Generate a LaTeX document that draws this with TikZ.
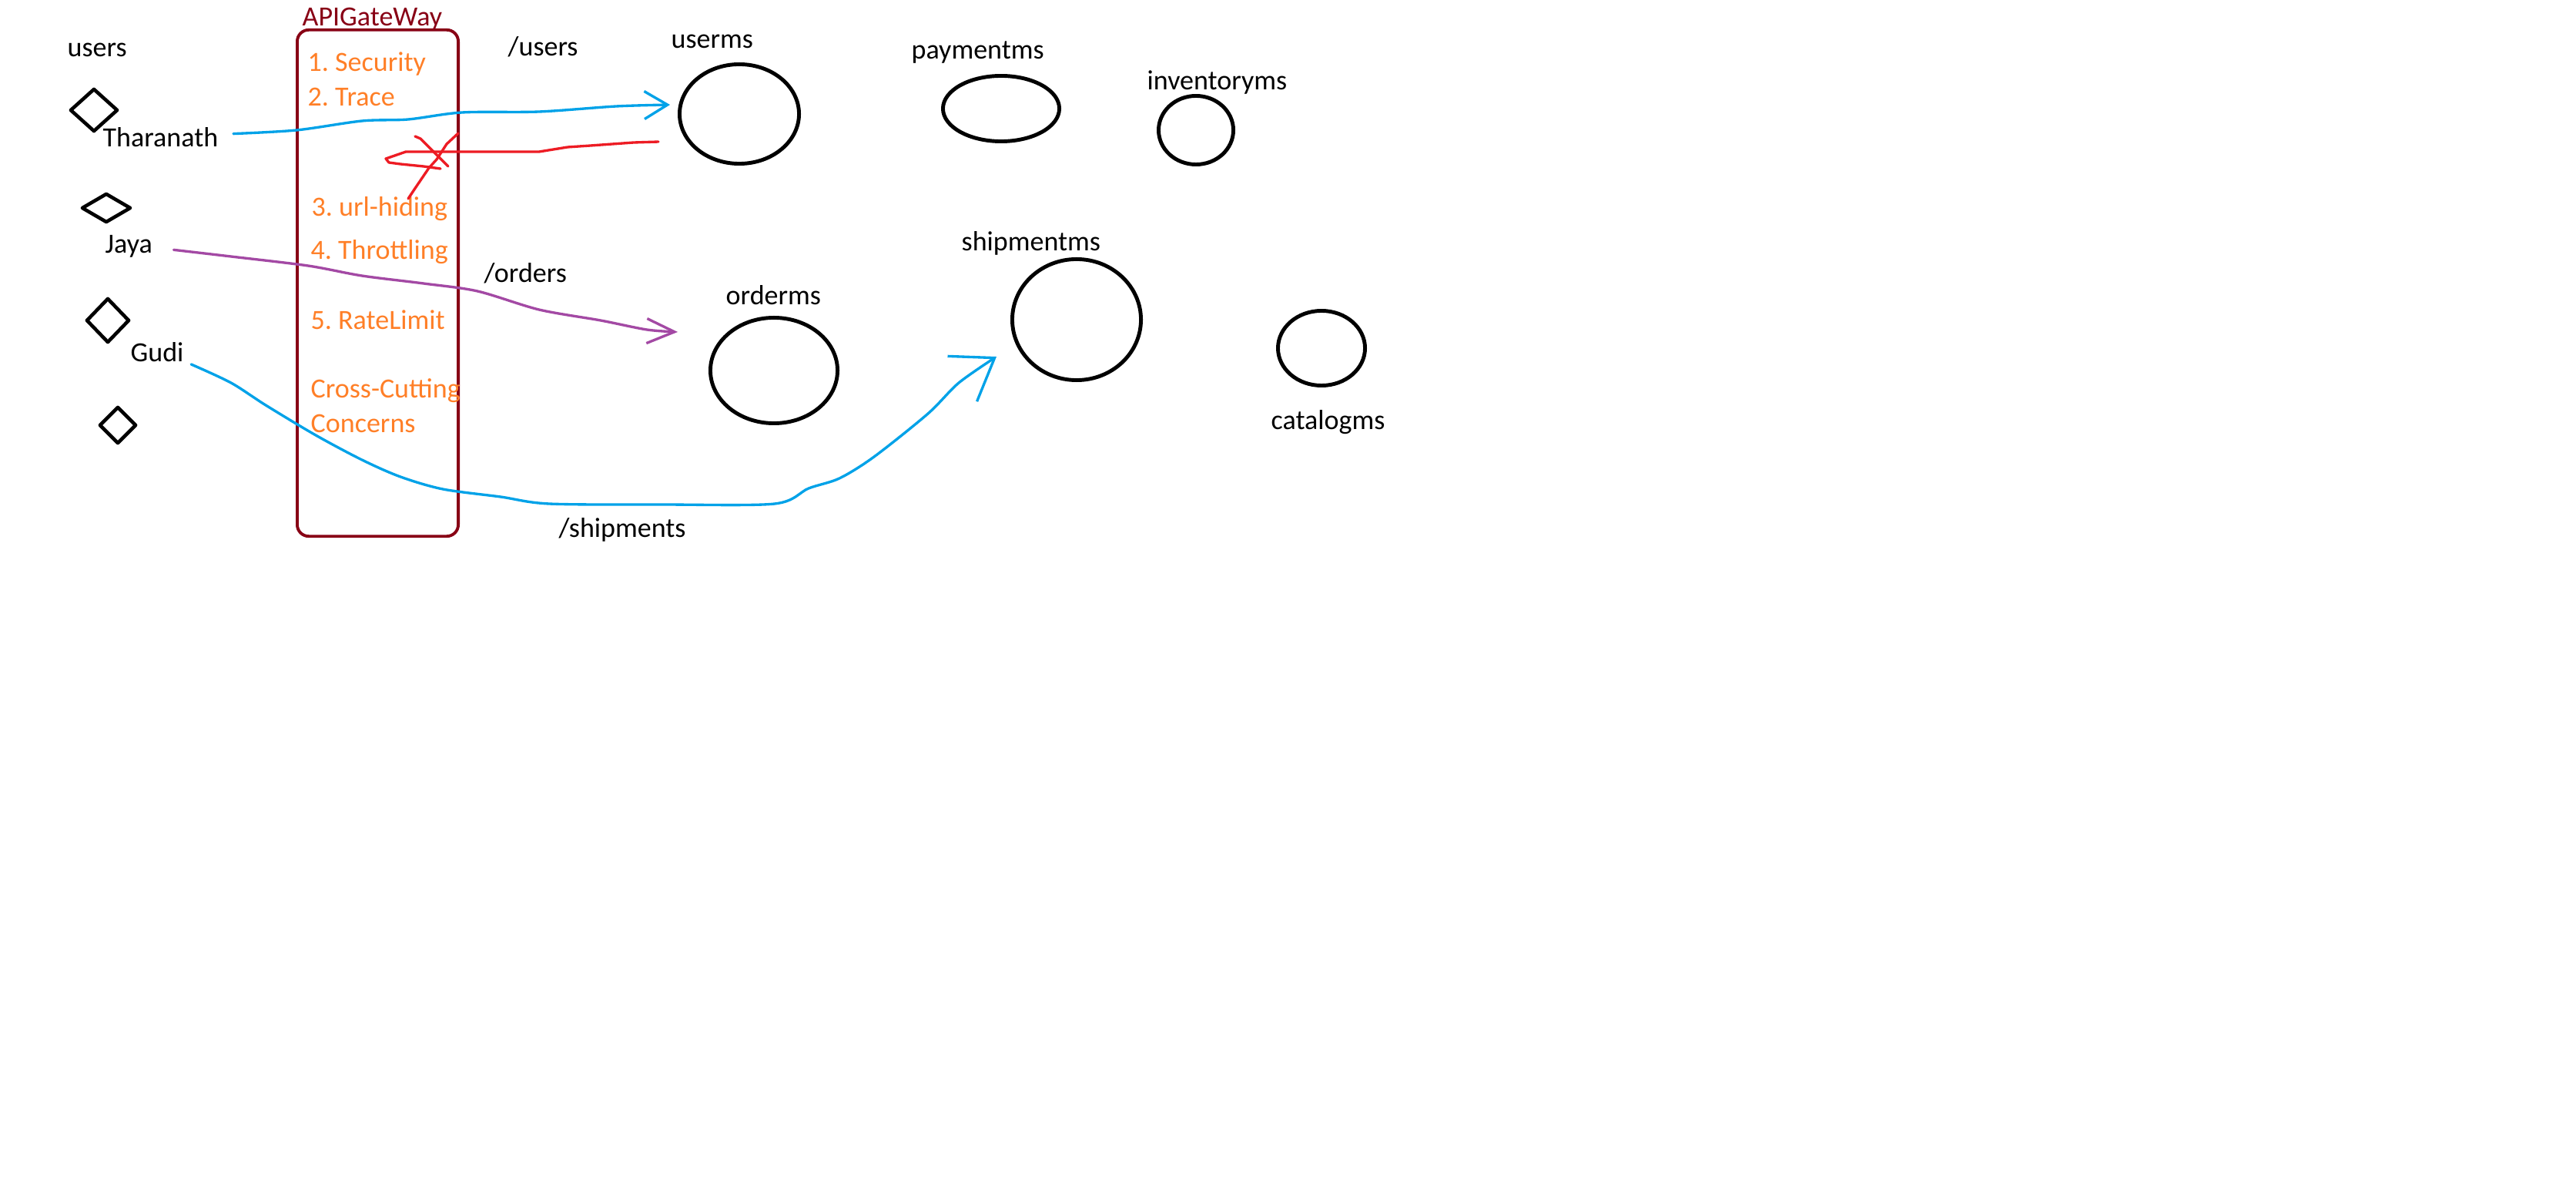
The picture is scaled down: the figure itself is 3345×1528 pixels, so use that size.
\documentclass[tikz,border=0pt]{standalone}
\usepackage{fontspec}
\setmainfont{Carlito}
\usetikzlibrary{arrows.meta, positioning, shapes.geometric}

\definecolor{paintorange}{HTML}{FF7F27}
\definecolor{paintdarkred}{HTML}{880015}
\definecolor{paintblue}{HTML}{00A2E8}
\definecolor{paintpurple}{HTML}{A349A4}
\definecolor{paintred}{HTML}{ED1C24}

\begin{document}
\frenchspacing
\begin{tikzpicture}[
  x = 0.01cm, y = -0.01cm,      % one unit is one pixel of the sketch
  > = {Straight Barb[length=3mm, width=3.6mm]}, % open arrow head
  line cap = round, line join = round,
  font = \fontsize{10.24pt}{12.3pt}\selectfont
  ]

  \tikzstyle{D1}=[      % Defines style for user Diamond
  diamond, draw,
  line width = 1.3pt,
  inner sep = 0pt
  ]

  \tikzstyle{E1}=[      % Defines style for service Ellipse
  ellipse, draw,
  line width = 1.4pt,
  inner sep = 0pt
  ]

  \tikzstyle{T1}=[      % Defines style for plain Text
  inner sep = 0pt,
  anchor = base west
  ]

  \tikzstyle{O1}=[      % Orange text inside the gateway
  T1, text = paintorange
  ]

  \tikzstyle{P1}=[      % Defines style for Pen strokes
  line width = 0.95pt
  ]

  \fill[white] (0,0) rectangle (3345,1528);
  \useasboundingbox (0,0) rectangle (3345,1528);

  % users on the left
  \node[T1] (users) at (87,74) {users};
  \node[D1, minimum width = 0.62cm, minimum height = 0.56cm] (d1) at (122,143) {};
  \node[T1] (tharanath) at (133,191) {Tharanath};
  \node[D1, minimum width = 0.64cm, minimum height = 0.38cm] (d2) at (138,270) {};
  \node[T1] (jaya) at (136,329) {Jaya};
  \node[D1, minimum width = 0.56cm, minimum height = 0.58cm] (d3) at (140,416) {};
  \node[T1] (gudi) at (169,470) {Gudi};
  \node[D1, minimum width = 0.48cm, minimum height = 0.48cm] (d4) at (153,552) {};

  % the gateway box
  \node[T1, text = paintdarkred] (gwtitle) at (392,34) {APIGateWay};
  \node[draw = paintdarkred, line width = 1.1pt, rounded corners = 0.15cm,
        minimum width = 2.09cm, minimum height = 6.57cm, inner sep = 0pt]
        (gw) at (490.5,367.5) {};

  \node[O1] (sec) at (399,93) {1. Security};
  \node[O1] (trace) at (399,138) {2. Trace};
  \node[O1] (hiding) at (404,281) {3. url-hiding};
  \node[O1] (throttle) at (403,337) {4. Throttling};
  \node[O1] (rate) at (403,428) {5. RateLimit};
  \node[O1] (cross) at (403,517) {Cross-Cutting};
  \node[O1] (concerns) at (403,562) {Concerns};

  % routes
  \node[T1] (rusers) at (659,73) {/users};
  \node[T1] (rorders) at (628,367) {/orders};
  \node[T1] (rship) at (725,698) {/shipments};

  % services
  \node[E1, minimum width = 1.55cm, minimum height = 1.29cm] (userms) at (960,148) {};
  \node[T1] (userl) at (871,63) {userms};
  \node[E1, minimum width = 1.51cm, minimum height = 0.85cm] (payms) at (1300,141) {};
  \node[T1] (payl) at (1183,77) {paymentms};
  \node[E1, minimum width = 0.97cm, minimum height = 0.89cm] (invms) at (1553,169) {};
  \node[T1] (invl) at (1489,117) {inventoryms};
  \node[E1, minimum width = 1.65cm, minimum height = 1.37cm] (orderms) at (1005,481) {};
  \node[T1] (orderl) at (942,396) {orderms};
  \node[E1, minimum width = 1.67cm, minimum height = 1.57cm] (shipms) at (1398,415) {};
  \node[T1] (shipl) at (1248,326) {shipmentms};
  \node[E1, minimum width = 1.13cm, minimum height = 0.97cm] (catms) at (1716,452) {};
  \node[T1] (catl) at (1650,558) {catalogms};

  % requests through the gateway
  \draw[P1, paintblue, ->] plot[smooth, tension = 0.5] coordinates {
    ([xshift = .19cm, yshift = .05cm]tharanath.east) (385,169) (470,157) (530,155)
    (600,146) (700,145) (800,138) ([xshift = -.1cm, yshift = .12cm]userms.west)};
  \draw[P1, paintpurple, -{Straight Barb[length=3.6mm, width=3.2mm]}]
    plot[smooth, tension = 0.5] coordinates {
    ([xshift = .27cm, yshift = -.04cm]jaya.east) (300,333) (400,345) (470,358)
    (550,368) (620,378) (700,402) (780,416) (840,428)
    ([xshift = -.4cm, yshift = .5cm]orderms.west)};
  \draw[P1, paintblue, -{Straight Barb[length=5mm, width=7mm]}]
    plot[smooth, tension = 0.5] coordinates {
    ([xshift = .09cm, yshift = -.02cm]gudi.south east) (300,497) (345,526) (410,565)
    (470,597) (520,619) (575,635) (650,645) (713,654) (860,655) (1006,654)
    (1050,634) (1090,621) (1135,593) (1205,537) (1245,497)
    ([xshift = -.18cm, yshift = -.48cm]shipms.west)};

  % response sent back, crossed out
  \coordinate (redend) at (572,219);
  \draw[P1, paintred] ([xshift = -.25cm, yshift = -.36cm]userms.west) -- (823,185)
    -- (767,189) -- (737,191) -- (700,197) -- (527,197) -- (501,206) -- (505,211)
    -- (520,213) -- (550,216) -- (redend);
  \draw[P1, paintred] (539,177) -- (546,180) -- (582,216);
  \draw[P1, paintred] (595,173) -- (580,187) -- (567,207) -- (557,218) -- (540,243)
    -- (530,258);
\end{tikzpicture}
\end{document}
